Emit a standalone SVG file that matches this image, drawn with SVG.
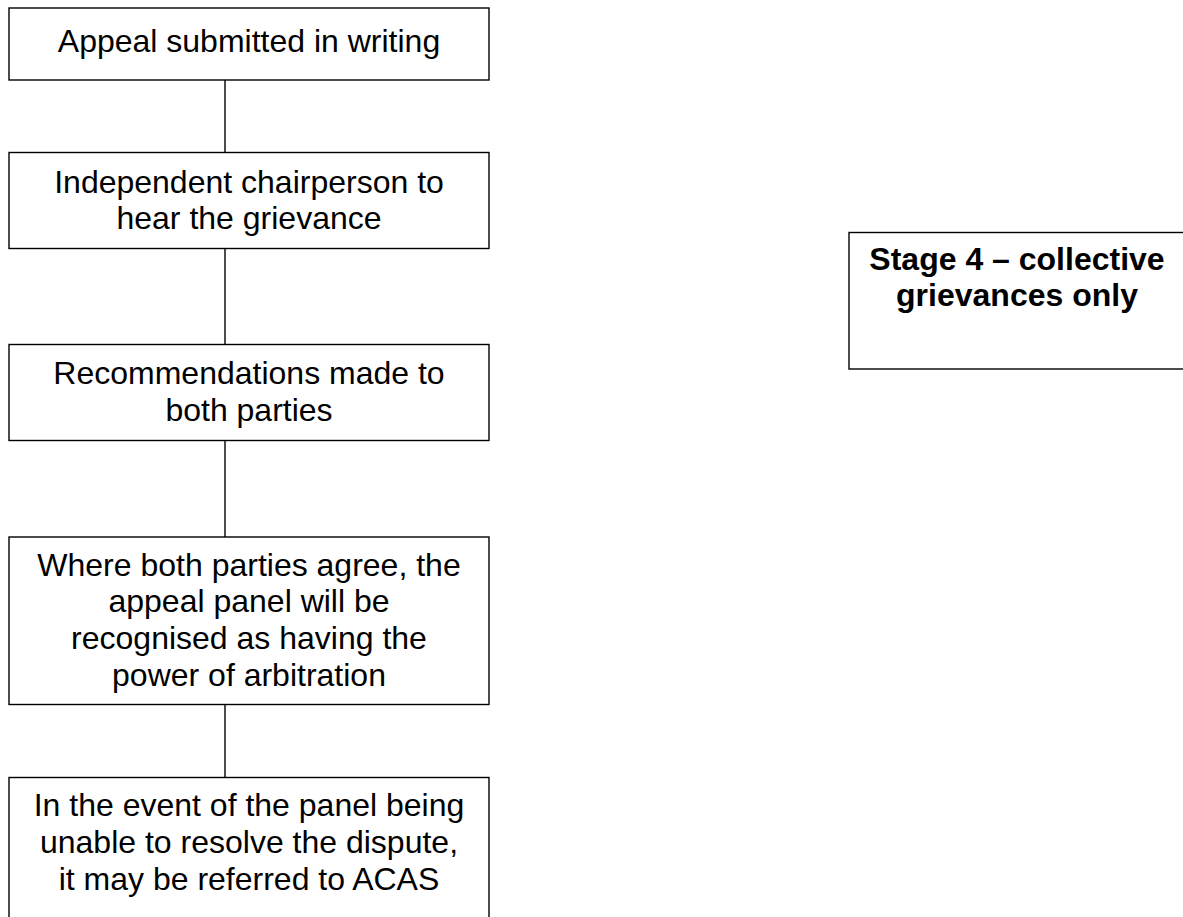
<svg xmlns="http://www.w3.org/2000/svg" width="1183" height="917" viewBox="0 0 1183 917">
<style>
.box{fill:#fff;stroke:#000;stroke-width:1.4}
.t{font-family:"Liberation Sans",Arial,sans-serif;font-size:32px;fill:#000;text-anchor:middle}
.b{font-weight:bold}
.c{stroke:#000;stroke-width:1.4;fill:none}
</style>
<rect width="1183" height="917" fill="#fff"/>
<g id="connectors">
<line class="c" x1="225" y1="80" x2="225" y2="152.5"/>
<line class="c" x1="225" y1="248.5" x2="225" y2="344.5"/>
<line class="c" x1="225" y1="440.5" x2="225" y2="537"/>
<line class="c" x1="225" y1="704.5" x2="225" y2="777.5"/>
</g>
<g id="n1">
<rect class="box" x="9" y="8" width="480" height="72"/>
<text class="t" x="249" y="52">Appeal submitted in writing</text>
</g>
<g id="n2">
<rect class="box" x="9" y="152.5" width="480" height="96"/>
<text class="t" x="249" y="193">Independent chairperson to</text>
<text class="t" x="249" y="229">hear the grievance</text>
</g>
<g id="n3">
<rect class="box" x="9" y="344.5" width="480" height="96"/>
<text class="t" x="249" y="384">Recommendations made to</text>
<text class="t" x="249" y="420.5">both parties</text>
</g>
<g id="n4">
<rect class="box" x="9" y="537" width="480" height="167.5"/>
<text class="t" x="249" y="575.5">Where both parties agree, the</text>
<text class="t" x="249" y="612">appeal panel will be</text>
<text class="t" x="249" y="649">recognised as having the</text>
<text class="t" x="249" y="686">power of arbitration</text>
</g>
<g id="n5">
<rect class="box" x="9" y="777.5" width="480" height="160"/>
<text class="t" x="249" y="816">In the event of the panel being</text>
<text class="t" x="249" y="852.5">unable to resolve the dispute,</text>
<text class="t" x="249" y="889.5">it may be referred to ACAS</text>
</g>
<g id="stage4">
<rect class="box" x="849" y="232.5" width="345" height="136.5"/>
<text class="t b" x="1017" y="269.5">Stage 4 – collective</text>
<text class="t b" x="1017" y="306">grievances only</text>
</g>
</svg>
